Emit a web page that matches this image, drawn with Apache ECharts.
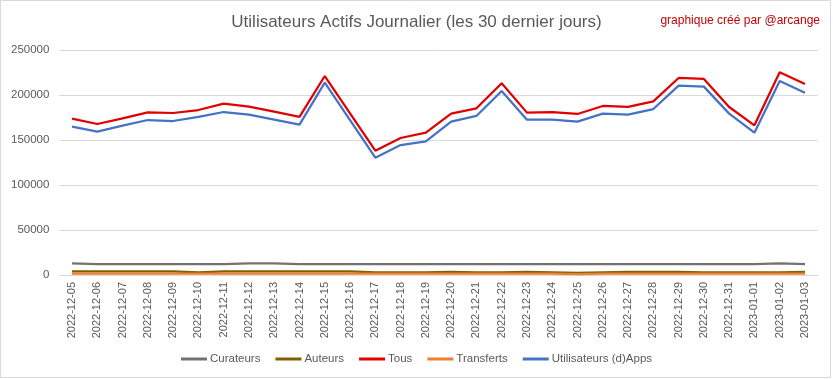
<!DOCTYPE html>
<html><head><meta charset="utf-8">
<script src="https://cdn.jsdelivr.net/npm/echarts@6/dist/echarts.min.js"></script>
<style>html,body{margin:0;padding:0;background:#fff}#c{width:833px;height:379px}</style>
</head><body><div id="c"></div>
<script>
const categories = ["2022-12-05","2022-12-06","2022-12-07","2022-12-08","2022-12-09","2022-12-10","2022-12-11","2022-12-12","2022-12-13","2022-12-14","2022-12-15","2022-12-16","2022-12-17","2022-12-18","2022-12-19","2022-12-20","2022-12-21","2022-12-22","2022-12-23","2022-12-24","2022-12-25","2022-12-26","2022-12-27","2022-12-28","2022-12-29","2022-12-30","2022-12-31","2023-01-01","2023-01-02","2023-01-03"];
const curateurs = [13000,12000,12000,12000,12000,12000,12000,12800,12800,12000,12000,12000,12000,12000,12000,12000,12000,12000,12000,12000,12000,12000,12000,12000,12000,12000,12000,12000,13000,12000];
const auteurs = [4000,4000,4000,4000,4000,3000,4000,4000,4000,4000,4000,4000,3000,3000,3000,3500,3000,3000,3500,3000,2500,3000,3500,3500,3500,3000,3000,3000,3000,3500];
const tous = [173700,167800,174100,180700,180000,183300,190400,187000,181500,175600,221100,179600,138100,152200,158100,179300,185200,213000,180400,181100,178900,187800,186700,193000,218900,217800,186700,166300,225200,212200];
const transferts = [1500,1500,1500,1500,1500,1500,1500,1500,1500,1500,1500,1500,1500,1500,1500,1500,1500,1500,1500,1500,1000,1500,1500,1500,1500,1500,1500,1500,1500,1500];
const apps = [164800,159300,165900,172200,171100,175600,181100,178100,172600,167000,213700,172000,130400,144400,148500,170400,176700,204400,172600,172600,170400,179300,178100,184400,210400,209300,179300,158100,215600,202600];
const yTicks = [0,50000,100000,150000,200000,250000];

const font = "'Liberation Sans',Arial,sans-serif";
const mk = (name, data, color) => ({name, type:'line', data, symbol:'none', lineStyle:{color, width:2.25}, itemStyle:{color}, animation:false});
const chart = echarts.init(document.getElementById('c'));
chart.setOption({
  animation:false,
  textStyle:{fontFamily:font},
  title:[{text:'Utilisateurs Actifs Journalier (les 30 dernier jours)', left:'center', top:9, textStyle:{fontSize:17, fontWeight:'normal', color:'#595959', fontFamily:font}},
         {text:'graphique créé par @arcange', right:8, top:10, textStyle:{fontSize:12, fontWeight:'normal', color:'#c00000', fontFamily:font}}],
  graphic:[{type:'rect', shape:{x:0.5,y:0.5,width:830,height:377}, style:{fill:'none', stroke:'#d9d9d9', lineWidth:1}, silent:true}],
  grid:{left:59.4, right:15.4, top:50, bottom:104},
  legend:{bottom:9, left:'center', itemWidth:26, itemHeight:3, icon:'rect', itemGap:15, textStyle:{fontSize:11.5, color:'#595959', fontFamily:font, padding:[0,0,0,-2]},
    data:['Curateurs','Auteurs','Tous','Transferts','Utilisateurs (d)Apps']},
  xAxis:{type:'category', data:categories, boundaryGap:true,
    axisLine:{lineStyle:{color:'#d9d9d9'}}, axisTick:{show:false},
    axisLabel:{rotate:90, fontSize:11, color:'#595959', margin:7, interval:0, fontFamily:font}},
  yAxis:{type:'value', min:yTicks[0], max:yTicks[yTicks.length-1], interval:50000,
    axisLine:{show:false}, axisTick:{show:false},
    axisLabel:{fontSize:11.5, color:'#595959', margin:10, fontFamily:font, formatter:v=>String(v)},
    splitLine:{lineStyle:{color:'#d9d9d9'}}},
  series:[
    mk('Curateurs', curateurs, '#767171'),
    mk('Auteurs', auteurs, '#7f6000'),
    mk('Tous', tous, '#e00000'),
    mk('Transferts', transferts, '#ed7d31'),
    mk('Utilisateurs (d)Apps', apps, '#4472c4')
  ]
});
</script></body></html>
